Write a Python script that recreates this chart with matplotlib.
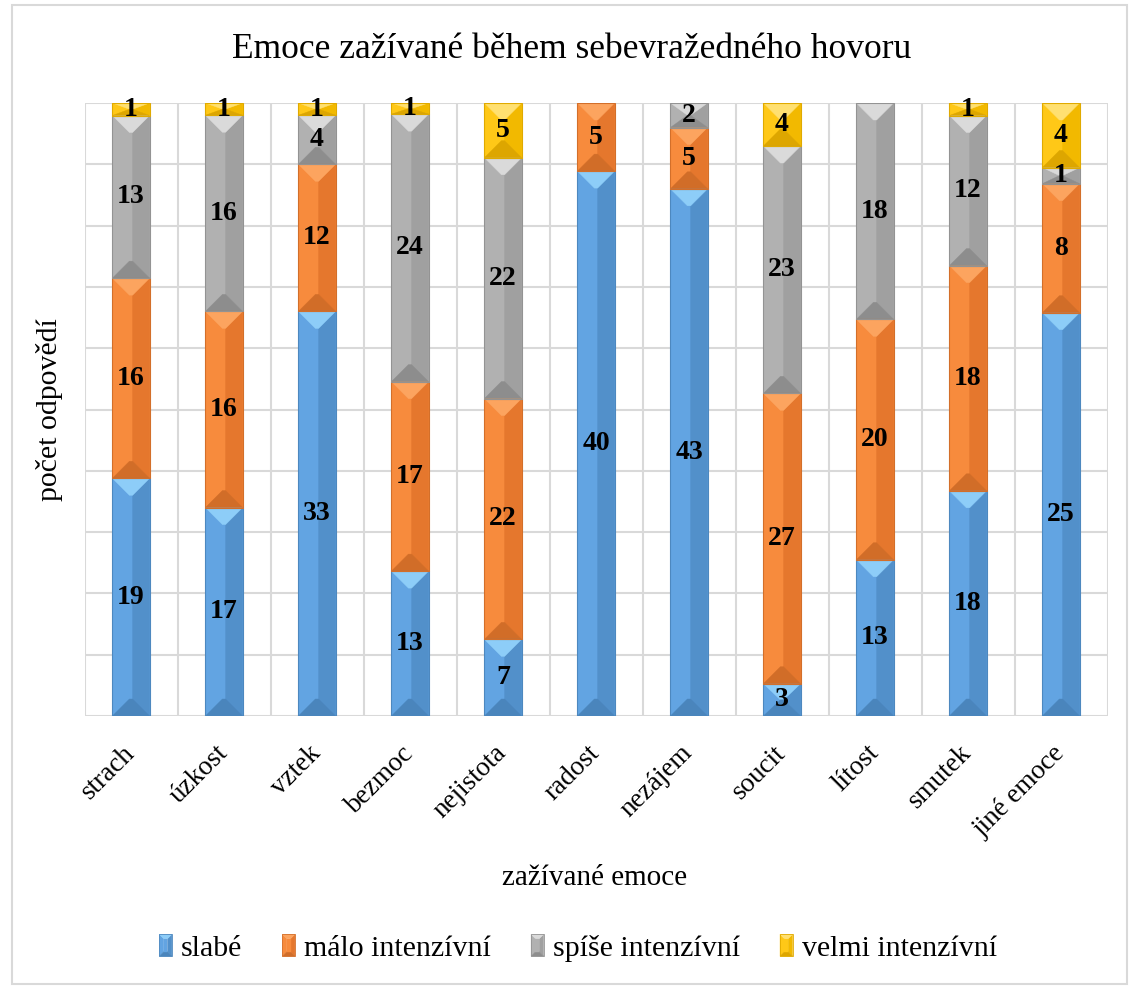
import matplotlib
matplotlib.use("Agg")
import matplotlib.pyplot as plt
from matplotlib.patches import Polygon, Rectangle
from matplotlib.legend_handler import HandlerBase
import numpy as np

categories = ["strach", "úzkost", "vztek", "bezmoc", "nejistota", "radost",
              "nezájem", "soucit", "lítost", "smutek", "jiné emoce"]
series_names = ["slabé", "málo intenzívní", "spíše intenzívní", "velmi intenzívní"]
slabe = [19, 17, 33, 13, 7, 40, 43, 3, 13, 18, 25]
malo = [16, 16, 12, 17, 22, 5, 5, 27, 20, 18, 8]
spise = [13, 16, 4, 24, 22, 0, 2, 23, 18, 12, 1]
velmi = [1, 1, 1, 1, 5, 0, 0, 4, 0, 1, 4]

title = "Emoce zažívané během sebevražedného hovoru"
xlabel = "zažívané emoce"
ylabel = "počet odpovědí"

# bevel colours: (left, right, top, bottom, edge)
bevels = [
    ("#62A4E2", "#5290CA", "#8DCDF8", "#4A85BC", "#4D88BF"),
    ("#F78B3D", "#E5772D", "#FCA45F", "#D16D28", "#D36F2A"),
    ("#B1B1B1", "#A0A0A0", "#DADADA", "#8D8D8D", "#939393"),
    ("#FFC817", "#F2B900", "#FFE071", "#DDA600", "#E0AA00"),
]

FONT = "Liberation Serif"
plt.rcParams["font.family"] = [FONT, "DejaVu Serif"]

W, H = 1130, 989
fig = plt.figure(figsize=(W / 100, H / 100), dpi=100)
ax_left, ax_right, ax_top, ax_bot = 84.5, 1107.5, 103, 716
ax = fig.add_axes([ax_left / W, 1 - ax_bot / H, (ax_right - ax_left) / W, (ax_bot - ax_top) / H])

n = len(categories)
x = np.arange(n)
data = np.array([slabe, malo, spise, velmi], dtype=float)
totals = data.sum(axis=0)
pct = data / totals * 100

ax.set_xlim(-0.5, n - 0.5)
ax.set_ylim(0, 100)

# grid
ax.set_yticks(np.arange(0, 101, 10))
ax.set_xticks(np.arange(-0.5, n, 1.0), minor=True)
ax.set_xticks(x)
ax.set_xticklabels(categories, rotation=45, ha="right", va="center",
                   rotation_mode="anchor", fontsize=19.5)
ax.tick_params(axis="x", which="both", length=0, pad=24)
ax.tick_params(axis="y", length=0, labelleft=False)
ax.grid(axis="y", color="#D9D9D9", linewidth=1.5)
ax.grid(axis="x", which="minor", color="#D9D9D9", linewidth=1.5)
ax.grid(axis="x", which="major", visible=False)
for s in ax.spines.values():
    s.set_visible(False)
ax.set_axisbelow(True)

# pixel scale
p0 = ax.transData.transform((0, 0))
p1 = ax.transData.transform((1, 1))
px_x = p1[0] - p0[0]
px_y = p1[1] - p0[1]
DEPTH = 17.0  # px

bar_w = 0.4
bottom = np.zeros(n)
for si in range(4):
    lc, rc, tc, bc, ec = bevels[si]
    bars = ax.bar(x, pct[si], bar_w, bottom=bottom, color=lc, linewidth=0, zorder=2)
    for i, rect in enumerate(bars):
        h = rect.get_height()
        if h <= 0:
            continue
        x0 = rect.get_x(); x1 = x0 + rect.get_width()
        y0 = rect.get_y(); y1 = y0 + h
        ix = min(DEPTH / px_x, (x1 - x0) / 2)
        iy = min(DEPTH / px_y, h / 2)
        xi0, xi1 = x0 + ix, x1 - ix
        yi0, yi1 = y0 + iy, y1 - iy
        faces = [
            ([(x0, y0), (xi0, yi0), (xi0, yi1), (x0, y1)], lc),
            ([(x1, y0), (xi1, yi0), (xi1, yi1), (x1, y1)], rc),
            ([(x0, y1), (x1, y1), (xi1, yi1), (xi0, yi1)], tc),
            ([(x0, y0), (x1, y0), (xi1, yi0), (xi0, yi0)], bc),
        ]
        for pts, c in faces:
            ax.add_patch(Polygon(pts, closed=True, facecolor=c, edgecolor=c,
                                 linewidth=0.3, zorder=3))
        ax.add_patch(Rectangle((x0, y0), x1 - x0, h, fill=False, edgecolor=ec,
                               linewidth=0.8, zorder=4))
        ax.text(rect.get_x() + rect.get_width() / 2, y0 + h / 2, f"{int(data[si, i])}",
                ha="center", va="center", fontsize=20, fontweight="bold",
                color="black", zorder=5)
    bottom += pct[si]

fig.text(572 / W, 1 - 50 / H, title, ha="center", va="center", fontsize=25.5)
fig.text(595 / W, 1 - 878 / H, xlabel, ha="center", va="center", fontsize=21)
fig.text(50 / W, 1 - 410 / H, ylabel, ha="center", va="center", rotation=90, fontsize=21.5)


class BevelProxy:
    def __init__(self, cols):
        self.cols = cols


class BevelHandler(HandlerBase):
    def create_artists(self, legend, orig_handle, xdescent, ydescent, width, height,
                       fontsize, trans):
        lc, rc, tc, bc, ec = orig_handle.cols
        x0, y0 = -xdescent, -ydescent
        x1, y1 = x0 + width, y0 + height
        d = width * 0.35
        xi0, xi1 = x0 + d, x1 - d
        yi0, yi1 = y0 + d, y1 - d
        arts = []
        for pts, c in [
            ([(x0, y0), (xi0, yi0), (xi0, yi1), (x0, y1)], lc),
            ([(x1, y0), (xi1, yi0), (xi1, yi1), (x1, y1)], rc),
            ([(x0, y1), (x1, y1), (xi1, yi1), (xi0, yi1)], tc),
            ([(x0, y0), (x1, y0), (xi1, yi0), (xi0, yi0)], bc),
            ([(xi0, yi0), (xi1, yi0), (xi1, yi1), (xi0, yi1)], lc),
        ]:
            arts.append(Polygon(pts, closed=True, facecolor=c, edgecolor=c,
                                linewidth=0.3, transform=trans))
        arts.append(Rectangle((x0, y0), width, height, fill=False, edgecolor=ec,
                              linewidth=0.6, transform=trans))
        return arts


handles = [BevelProxy(b) for b in bevels]
fig.legend(handles, series_names, handler_map={BevelProxy: BevelHandler()},
           loc="center", bbox_to_anchor=(578 / W, 1 - 948 / H), ncol=4,
           frameon=False, fontsize=21.5, handlelength=0.42, handleheight=0.75,
           handletextpad=0.3, columnspacing=1.35)

# chart area border
fig.add_artist(Rectangle((12 / W, 5 / H), 1115 / W, 979 / H, transform=fig.transFigure,
                         fill=False, edgecolor="#D9D9D9", linewidth=1.5))

fig.savefig("out.png", dpi=100)
